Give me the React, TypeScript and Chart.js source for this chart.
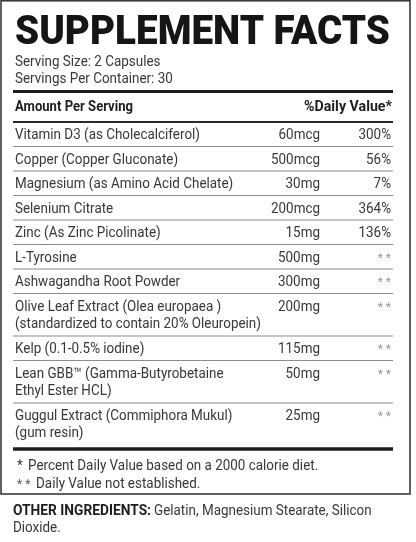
import React, { useEffect, useRef } from "react";
import { Chart, registerables } from "chart.js";

Chart.register(...registerables);

// ---- data ----
const title = "SUPPLEMENT FACTS";
const servingInfo = ["Serving Size: 2 Capsules", "Servings Per Container: 30"];
const headerLabels = ["Amount Per Serving", "%Daily Value*"];
const ingredientNames: string[][] = [
  ["Vitamin D3 (as Cholecalciferol)"],
  ["Copper (Copper Gluconate)"],
  ["Magnesium (as Amino Acid Chelate)"],
  ["Selenium Citrate"],
  ["Zinc (As Zinc Picolinate)"],
  ["L-Tyrosine"],
  ["Ashwagandha Root Powder"],
  ["Olive Leaf Extract (Olea europaea )", "(standardized to contain 20% Oleuropein)"],
  ["Kelp (0.1-0.5% iodine)"],
  ["Lean GBB\u2122 (Gamma-Butyrobetaine", "Ethyl Ester HCL)"],
  ["Guggul Extract (Commiphora Mukul)", "(gum resin)"],
];
const amounts = ["60mcg", "500mcg", "30mg", "200mcg", "15mg", "500mg", "300mg", "200mg", "115mg", "50mg", "25mg"];
const dailyValues = ["300%", "56%", "7%", "364%", "136%", "**", "**", "**", "**", "**", "**"];
const footnoteMarks = ["*", "* *"];
const footnotes = ["Percent Daily Value based on a 2000 calorie diet.", "Daily Value not established."];
const otherLabel = "OTHER INGREDIENTS:";
const otherText = ["Gelatin, Magnesium Stearate, Silicon", "Dioxide."];

// ---- layout (pixel units of the linear scales) ----
const W = 416;
const H = 542;
const FONT = "Roboto, 'Liberation Sans', Arial, sans-serif";

export default function App() {
  const ref = useRef<HTMLCanvasElement | null>(null);

  useEffect(() => {
    if (!ref.current) return;

    // row geometry from number of text lines
    const tableTop = 122;
    const firstLine = 24.5;
    const extraLine = 18;
    const rowTops: number[] = [];
    let acc = tableTop;
    ingredientNames.forEach((lines) => {
      rowTops.push(acc);
      acc += firstLine + extraLine * (lines.length - 1);
    });

    const anchors = rowTops.map((t) => ({ x: 320, y: t + 17 }));

    const labelPlugin = {
      id: "factsLabel",
      afterDraw(chart: any) {
        const ctx: CanvasRenderingContext2D = chart.ctx;
        const xs = chart.scales.x;
        const ys = chart.scales.y;
        const X = (v: number) => xs.getPixelForValue(v);
        const Y = (v: number) => ys.getPixelForValue(v);

        const regular = `400 14.6px ${FONT}`;
        const bold = `700 14.6px ${FONT}`;
        const heavy = `900 41px ${FONT}`;

        const fit = (s: string, font: string, target: number) => {
          ctx.save();
          ctx.font = font;
          const w = ctx.measureText(s).width;
          ctx.restore();
          return target / w;
        };
        const sxReg = fit("Vitamin D3 (as Cholecalciferol)", regular, 185);
        const sxTitle = fit(title, heavy, 375);

        const text = (
          s: string,
          x: number,
          y: number,
          font: string,
          sx: number,
          align: CanvasTextAlign = "left",
          color = "#383838"
        ) => {
          ctx.save();
          ctx.font = font;
          ctx.fillStyle = color;
          ctx.textAlign = align;
          ctx.textBaseline = "alphabetic";
          ctx.translate(X(x), Y(y));
          ctx.scale(sx, 1);
          ctx.fillText(s, 0, 0);
          ctx.restore();
        };
        const hline = (y: number, x0: number, x1: number, w: number, color: string) => {
          ctx.save();
          ctx.strokeStyle = color;
          ctx.lineWidth = w;
          ctx.beginPath();
          ctx.moveTo(X(x0), Y(y));
          ctx.lineTo(X(x1), Y(y));
          ctx.stroke();
          ctx.restore();
        };

        // outer box
        ctx.save();
        ctx.strokeStyle = "#3a3a3a";
        ctx.lineWidth = 1.6;
        ctx.strokeRect(X(1), Y(0.8), X(410) - X(1), Y(494) - Y(0.8));
        ctx.restore();

        // title
        text(title, 15, 43.5, heavy, sxTitle, "left", "#151515");

        // serving info
        text(servingInfo[0], 15, 66, regular, sxReg);
        text(servingInfo[1], 15, 83.3, regular, sxReg);

        hline(91.5, 13, 393, 3, "#1e1e1e");

        text(headerLabels[0], 15, 110.5, bold, fit(headerLabels[0], bold, 118), "left", "#1e1e1e");
        text(headerLabels[1], 392, 110.5, bold, fit(headerLabels[1], bold, 88), "right", "#1e1e1e");

        hline(122, 13, 393, 2, "#2a2a2a");

        ingredientNames.forEach((lines, i) => {
          const top = rowTops[i];
          lines.forEach((ln, j) => {
            text(ln, 15, top + 17 + j * 17, regular, sxReg);
          });
          text(amounts[i], 320, top + 17, regular, sxReg, "right");
          const dv = dailyValues[i];
          if (dv === "**") {
            text("* *", 391, top + 17, `400 12px ${FONT}`, 1, "right", "#9a9a9a");
          } else {
            text(dv, 391, top + 17, regular, sxReg, "right");
          }
          if (i < ingredientNames.length - 1) {
            const bottom = rowTops[i + 1];
            hline(bottom, 13, 393, 1.2, "#8c8c8c");
          }
        });

        hline(449, 13, 393, 3.5, "#1e1e1e");

        // footnotes
        text(footnoteMarks[0], 17, 470, regular, sxReg);
        text(footnotes[0], 28, 470, regular, sxReg);
        text(footnoteMarks[1], 17, 487.5, `400 12px ${FONT}`, 1, "left", "#555");
        text(footnotes[1], 36, 487.5, regular, sxReg);

        // other ingredients
        text(otherLabel, 13, 515, bold, fit(otherLabel, bold, 138), "left", "#1e1e1e");
        text(otherText[0], 154, 515, regular, sxReg);
        text(otherText[1], 13, 532, regular, sxReg);
      },
    };

    const chart = new Chart(ref.current, {
      type: "scatter",
      data: {
        datasets: [
          {
            data: anchors,
            pointRadius: 0,
            showLine: false,
          },
        ],
      },
      options: {
        animation: false,
        responsive: true,
        maintainAspectRatio: false,
        layout: { padding: 0 },
        events: [],
        plugins: {
          legend: { display: false },
          tooltip: { enabled: false },
        },
        scales: {
          x: { type: "linear", min: 0, max: W, display: false },
          y: { type: "linear", min: 0, max: H, reverse: true, display: false },
        },
      },
      plugins: [labelPlugin],
    });

    return () => chart.destroy();
  }, []);

  return (
    <div
      style={{
        position: "fixed",
        left: 0,
        top: 0,
        width: W,
        height: H,
        background: "#fff",
      }}
    >
      <canvas ref={ref} />
    </div>
  );
}
